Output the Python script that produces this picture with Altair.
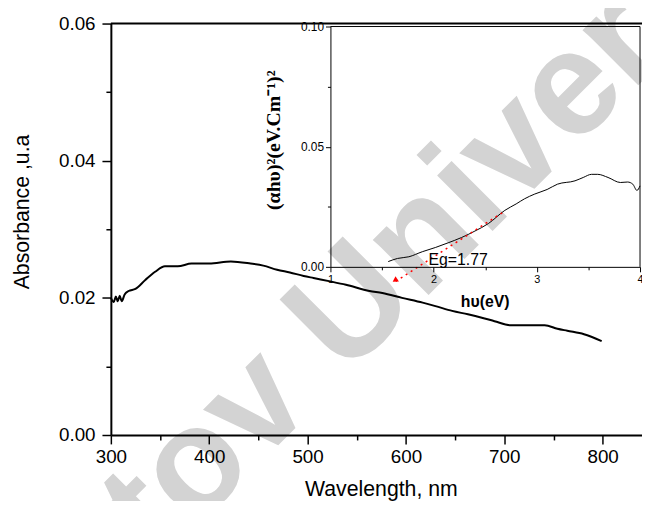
import altair as alt
import pandas as pd

# ---------------- data ----------------
# Main absorbance spectrum
wavelength = [300, 303, 305, 307, 309, 311, 314, 318, 325, 335, 345, 355, 368, 382,
              400, 422, 442, 455, 469, 482, 496, 506, 523, 539, 563, 576, 596, 617,
              630, 647, 663, 680, 690, 707, 720, 741, 754, 764, 781, 799]
absorbance = [0.0200, 0.0194, 0.0202, 0.0195, 0.0203, 0.0195, 0.0205, 0.0210, 0.0213,
              0.0226, 0.0238, 0.0246, 0.0246, 0.0250, 0.0250, 0.0253, 0.0250, 0.0247,
              0.0241, 0.0237, 0.0232, 0.0229, 0.0224, 0.0219, 0.0210, 0.0207, 0.0200,
              0.0193, 0.0188, 0.0181, 0.0176, 0.0170, 0.0166, 0.0160, 0.0160, 0.0160,
              0.0155, 0.0152, 0.0147, 0.0137]

# Inset Tauc plot
photon_energy = [1.56, 1.65, 1.76, 1.89, 2.02, 2.14, 2.27, 2.40, 2.53, 2.69, 2.80, 2.88,
                 2.98, 3.10, 3.20, 3.37, 3.45, 3.53, 3.59, 3.69, 3.81, 3.88, 3.93, 3.97, 4.00]
tauc_value = [0.0022, 0.0035, 0.0042, 0.0063, 0.0081, 0.0100, 0.0122, 0.0149, 0.0180,
              0.0235, 0.0262, 0.0283, 0.0303, 0.0322, 0.0344, 0.0358, 0.0372, 0.0385,
              0.0385, 0.0372, 0.0351, 0.0353, 0.0344, 0.0318, 0.0337]

# Linear extrapolation (red dotted) and arrow head
fit_hv = [2.69, 1.633]
fit_value = [0.0232, -0.0060]
arrow_hv = [1.625]
arrow_value = [-0.0056]
eg_text = ["Eg=1.77"]
eg_hv = [1.95]
eg_value = [0.0008]

# Titles / annotations
main_x_title = "Wavelength, nm"
main_y_title = "Absorbance ,u.a"
inset_x_title = ["hυ(eV)"]
inset_x_title_pos = [2.5, -0.0148]
inset_y_title = ["(αhυ)²(eV.Cm⁻¹)²"]
inset_y_title_pos = [0.45, 0.0527]
watermark_text = ["tov Univer"]
watermark_pos = [577.6, 0.0231]

# axis ticks (major with labels, minor without)
main_x_major = [300, 400, 500, 600, 700, 800]
main_x_minor = [350, 450, 550, 650, 750]
main_y_major = [0.0, 0.02, 0.04, 0.06]
main_y_minor = [0.01, 0.03, 0.05]
inset_x_major = [1, 2, 3, 4]
inset_x_minor = [1.5, 2.5, 3.5]
inset_y_major = [0.0, 0.05, 0.1]
inset_y_minor = [0.025, 0.075]

FONT = "Liberation Sans"

main_df = pd.DataFrame({"wl": wavelength, "ab": absorbance})
inset_df = pd.DataFrame({"hv": photon_energy, "a": tauc_value})
fit_df = pd.DataFrame({"hv": fit_hv, "a": fit_value})
arrow_df = pd.DataFrame({"hv": arrow_hv, "a": arrow_value})
eg_df = pd.DataFrame({"hv": eg_hv, "a": eg_value, "t": eg_text})
border_df = pd.DataFrame({"x1": [300], "x2": [840], "y": [0.06]})
frame_df = pd.DataFrame({"x1": [1, 4], "x2": [4, 4], "y1": [0.1, 0.0], "y2": [0.1, 0.1]})
ixt_df = pd.DataFrame({"hv": [inset_x_title_pos[0]], "a": [inset_x_title_pos[1]], "t": inset_x_title})
iyt_df = pd.DataFrame({"hv": [inset_y_title_pos[0]], "a": [inset_y_title_pos[1]], "t": inset_y_title})
wm_df = pd.DataFrame({"x": [watermark_pos[0]], "y": [watermark_pos[1]], "t": watermark_text})

# ---------------- scales / axes ----------------
main_xs = alt.Scale(domain=[300, 840], nice=False, zero=False)
main_ys = alt.Scale(domain=[0, 0.06], nice=False)
ins_xs = alt.Scale(domain=[1, 4], range=[222, 535], nice=False, zero=False)
ins_ys = alt.Scale(domain=[0, 0.1], range=[246, 3], nice=False)

common_main = dict(domainColor="black", tickColor="black", tickWidth=1.5, grid=False,
                   labelFont=FONT, labelFontSize=19, labelColor="black",
                   labelOverlap=False, labelFlush=False, zindex=1)
main_x_axis = alt.Axis(
    values=main_x_major, orient="bottom", tickSize=9, labelPadding=4,
    domainWidth=2, title=main_x_title, titleFont=FONT, titleFontSize=21.5,
    titleFontWeight="normal", titleColor="black", titleX=273, titleY=55,
    titleBaseline="middle", titleAlign="center", **common_main,
)
main_x_minor_axis = alt.Axis(
    values=main_x_minor, orient="bottom", tickSize=5, labels=False, domain=False,
    title=None, tickColor="black", tickWidth=1.5, grid=False, zindex=1,
)
main_y_axis = alt.Axis(
    values=main_y_major, orient="left", format=".2f", tickSize=9, labelPadding=7,
    domainWidth=2, title=main_y_title, titleFont=FONT, titleFontSize=21.5,
    titleFontWeight="normal", titleColor="black", titleX=-89, titleY=190,
    titleBaseline="middle", titleAlign="center", titleAngle=270, **common_main,
)
main_y_minor_axis = alt.Axis(
    values=main_y_minor, orient="left", tickSize=5, labels=False, domain=False,
    title=None, tickColor="black", tickWidth=1.5, grid=False, zindex=1,
)

common_ins = dict(domainColor="black", tickColor="black", tickWidth=1, grid=False,
                  labelFont=FONT, labelColor="black",
                  labelOverlap=False, labelFlush=False, title=None, zindex=1)
ins_x_axis = alt.Axis(values=inset_x_major, orient="bottom", offset=-170, format="d",
                      tickSize=5, labelPadding=2, domainWidth=1, labelFontSize=11,
                      **common_ins)
ins_x_minor_axis = alt.Axis(values=inset_x_minor, orient="bottom", offset=-170,
                            tickSize=3, labels=False, domain=False, title=None,
                            tickColor="black", tickWidth=1, grid=False, zindex=1)
ins_y_axis = alt.Axis(values=inset_y_major, orient="left", offset=-222, format=".2f",
                      tickSize=5, labelPadding=2, domainWidth=1, labelFontSize=12,
                      **common_ins)
ins_y_minor_axis = alt.Axis(values=inset_y_minor, orient="left", offset=-222,
                            tickSize=3, labels=False, domain=False, title=None,
                            tickColor="black", tickWidth=1, grid=False, zindex=1)

# ---------------- main panel ----------------
watermark = alt.Chart(wm_df).mark_text(
    font=FONT, fontSize=150, fontWeight="bold", color="#d3d3d3",
    angle=315, align="center", baseline="middle",
).encode(
    x=alt.X("x:Q", scale=main_xs, axis=None),
    y=alt.Y("y:Q", scale=main_ys, axis=None),
    text="t:N",
)
main_line = alt.Chart(main_df).mark_line(
    color="black", strokeWidth=2, interpolate="monotone"
).encode(
    x=alt.X("wl:Q", scale=main_xs, axis=main_x_axis),
    y=alt.Y("ab:Q", scale=main_ys, axis=main_y_axis),
)
main_minor = alt.Chart(main_df).mark_line(opacity=0).encode(
    x=alt.X("wl:Q", scale=main_xs, axis=main_x_minor_axis),
    y=alt.Y("ab:Q", scale=main_ys, axis=main_y_minor_axis),
)
top_border = alt.Chart(border_df).mark_rule(color="black", strokeWidth=2).encode(
    x=alt.X("x1:Q", scale=main_xs, axis=None),
    x2="x2:Q",
    y=alt.Y("y:Q", scale=main_ys, axis=None),
)
main = alt.layer(watermark, main_line, main_minor, top_border).resolve_axis(
    x="independent", y="independent"
)

# ---------------- inset ----------------
inset_line = alt.Chart(inset_df).mark_line(
    color="black", strokeWidth=1, interpolate="monotone"
).encode(
    x=alt.X("hv:Q", scale=ins_xs, axis=ins_x_axis),
    y=alt.Y("a:Q", scale=ins_ys, axis=ins_y_axis),
)
inset_minor = alt.Chart(inset_df).mark_line(opacity=0).encode(
    x=alt.X("hv:Q", scale=ins_xs, axis=ins_x_minor_axis),
    y=alt.Y("a:Q", scale=ins_ys, axis=ins_y_minor_axis),
)
frame = alt.Chart(frame_df).mark_rule(color="black", strokeWidth=1).encode(
    x=alt.X("x1:Q", scale=ins_xs, axis=None), x2="x2:Q",
    y=alt.Y("y1:Q", scale=ins_ys, axis=None), y2="y2:Q",
)
fit = alt.Chart(fit_df).mark_line(color="red", strokeWidth=1.5, strokeDash=[2, 4]).encode(
    x=alt.X("hv:Q", scale=ins_xs, axis=None),
    y=alt.Y("a:Q", scale=ins_ys, axis=None),
)
arrow = alt.Chart(arrow_df).mark_point(
    shape="triangle-up", filled=True, color="red", size=40, angle=237, opacity=1
).encode(
    x=alt.X("hv:Q", scale=ins_xs, axis=None),
    y=alt.Y("a:Q", scale=ins_ys, axis=None),
)
eg = alt.Chart(eg_df).mark_text(
    font=FONT, fontSize=16, color="black", align="left", baseline="alphabetic"
).encode(
    x=alt.X("hv:Q", scale=ins_xs, axis=None),
    y=alt.Y("a:Q", scale=ins_ys, axis=None),
    text="t:N",
)
ixt = alt.Chart(ixt_df).mark_text(
    font=FONT, fontSize=16, fontWeight="bold", color="black", align="center", baseline="middle"
).encode(
    x=alt.X("hv:Q", scale=ins_xs, axis=None),
    y=alt.Y("a:Q", scale=ins_ys, axis=None),
    text="t:N",
)
iyt = alt.Chart(iyt_df).mark_text(
    font="Liberation Serif", fontSize=20, fontWeight="bold", color="black",
    align="center", baseline="middle", angle=270,
).encode(
    x=alt.X("hv:Q", scale=ins_xs, axis=None),
    y=alt.Y("a:Q", scale=ins_ys, axis=None),
    text="t:N",
)
inset = alt.layer(inset_line, inset_minor, frame, fit, arrow, eg, ixt, iyt).resolve_axis(
    x="independent", y="independent"
)

chart = alt.layer(main, inset).resolve_scale(
    x="independent", y="independent"
).properties(
    width=537, height=416,
    autosize=alt.AutoSizeParams(type="none"),
    padding={"left": 104, "top": 13, "right": 0, "bottom": 64},
    background="white",
).configure_view(stroke=None)

chart.save("out.html", embed_options={"renderer": "svg", "actions": False})
